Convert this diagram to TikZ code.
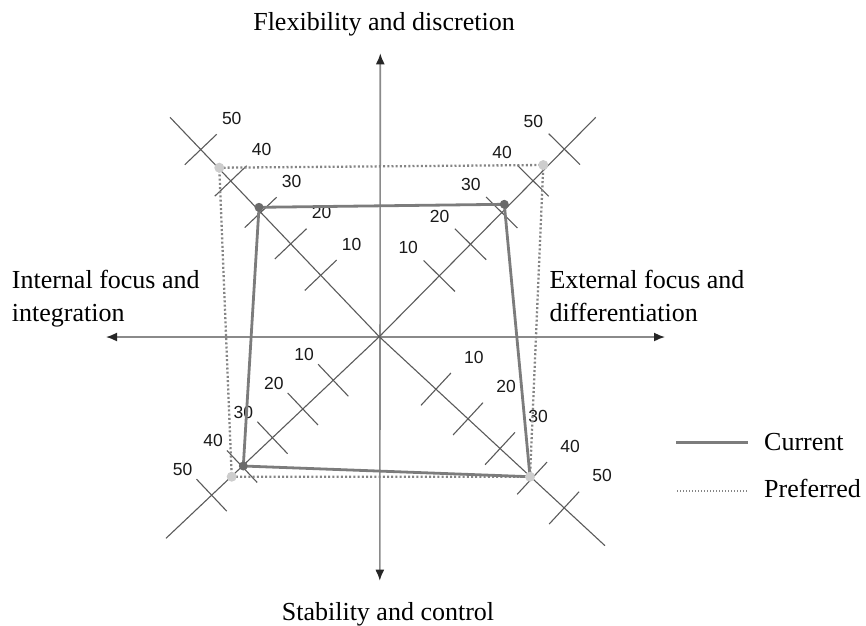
\documentclass[tikz,border=0pt]{standalone}
\usepackage{fontspec}
\setmainfont{Liberation Serif}
\newfontfamily\numfont{Liberation Sans}
\usetikzlibrary{arrows.meta,calc}
\definecolor{axisgrey}{HTML}{8A8A8A}
\definecolor{diaggrey}{HTML}{5A5A5A}
\definecolor{curgrey}{HTML}{7C7C7C}
\definecolor{prefgrey}{HTML}{858585}
\definecolor{curdot}{HTML}{6A6A6A}
\definecolor{prefdot}{HTML}{CDCDCD}
\begin{document}
\begin{tikzpicture}[x=1pt,y=-1pt,
  axis/.style={draw=axisgrey, line width=1.6pt,
    {Latex[length=11pt,width=9pt,color=black!85]}-{Latex[length=11pt,width=9pt,color=black!85]}},
  arm/.style={draw=diaggrey, line width=1.1pt},
  tickmark/.style={draw=diaggrey, line width=1.1pt},
  scalelabel/.style={font=\numfont\fontsize{17.5}{17.5}\selectfont, text=black!90, inner sep=0pt},
  caption/.style={font=\fontsize{26}{30}\selectfont, inner sep=0pt},
  current/.style={draw=curgrey, line width=2.8pt, line join=round},
  preferred/.style={draw=prefgrey, line width=2.3pt, line cap=butt, dash pattern=on 2pt off 2.2pt},
  legdots/.style={draw=prefgrey, line width=1.5pt, line cap=butt, dash pattern=on 1.3pt off 1.7pt},
  curpt/.style={circle, fill=curdot, minimum size=9pt, inner sep=0pt},
  prefpt/.style={circle, fill=prefdot, minimum size=10pt, inner sep=0pt}
]
\useasboundingbox (0,0) rectangle (866,625);

% centre, axis ends and diagonal arm ends
\coordinate (O) at (379.3,336.7);
\coordinate (vT) at (380.3,53.3);
\coordinate (vB) at (379.8,580.7);
\coordinate (hL) at (106,337);
\coordinate (hR) at (665,337);
\coordinate (eTL) at (170,117.3);
\coordinate (eTR) at (595.7,117.3);
\coordinate (eBL) at (166,538.3);
\coordinate (eBR) at (605,545.7);

% main axes
\draw[axis] (vT) -- (vB);
\draw[axis] (hL) -- (hR);

% diagonal scales
\foreach \e in {eTL,eTR,eBL,eBR} \draw[arm] (O) -- (\e);

\foreach \arm/\tz/\st/\dx/\dy in {eTL/0.280/0.1433/31/-31, eTR/0.277/0.1445/-31/-28,
                                  eBL/0.216/0.1425/-29/-25.5, eBR/0.251/0.142/38/-32} {
  \foreach \k in {1,...,5} {
    \pgfmathsetmacro\tpos{\tz+(\k-1)*\st}
    \coordinate (\arm-\k) at ($(O)!\tpos!(\arm)$);
    \draw[tickmark] ($(\arm-\k)!22pt!90:(\arm)$) -- ($(\arm-\k)!22pt!-90:(\arm)$);
    \node[scalelabel] (\arm-lab\k) at ($(\arm-\k)+(\dx,\dy)$) {\the\numexpr\k*10\relax};
  }
}

% profile corners
\coordinate (cTL) at (259,207.3);
\coordinate (cTR) at (504.3,204.3);
\coordinate (cBR) at (530,476.7);
\coordinate (cBL) at (243.3,466);
\coordinate (pTL) at (219.3,167.7);
\coordinate (pTR) at (543.3,165);
\coordinate (pBR) at (530,476.7);
\coordinate (pBL) at (231.7,476.7);

\draw[preferred] (pTL) -- (pTR) -- (pBR) -- (pBL) -- cycle;
\draw[current] (cTL) -- (cTR) -- (cBR) -- (cBL) -- cycle;

\foreach \c in {cTL,cTR,cBL} \node[curpt] (\c-dot) at (\c) {};
\foreach \c in {pTL,pTR,pBR,pBL} \node[prefpt] (\c-dot) at (\c) {};

% axis captions
\node[caption, anchor=base] (flex) at (384,30.7) {Flexibility and discretion};
\node[caption, anchor=base] (stab) at (388,620) {Stability and control};
\node[caption, anchor=base west] (intA) at (11.7,288.3) {Internal focus and};
\node[caption, anchor=base west] (intB) at (11.7,321.7) {integration};
\node[caption, anchor=base west] (extA) at (549.3,288.3) {External focus and};
\node[caption, anchor=base west] (extB) at (549.3,321.7) {differentiation};

% legend
\coordinate (lc1) at (676,442.3);
\coordinate (lc2) at (747.7,442.3);
\coordinate (lp1) at (677,491);
\coordinate (lp2) at (747.7,491);
\draw[current] (lc1) -- (lc2);
\draw[legdots] (lp1) -- (lp2);
\node[caption, anchor=base west] (legcur) at (764,450) {Current};
\node[caption, anchor=base west] (legpref) at (764,497.5) {Preferred};
\end{tikzpicture}
\end{document}
